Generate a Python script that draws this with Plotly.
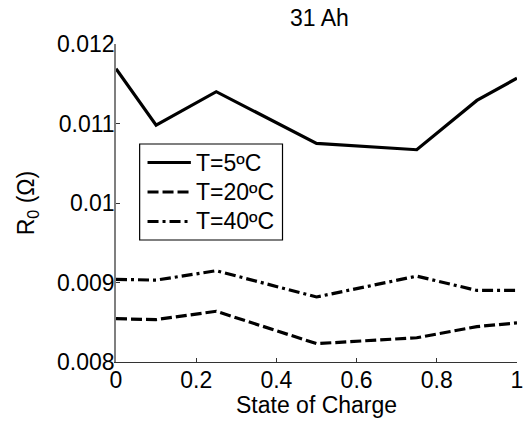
import plotly.graph_objects as go

# State of charge sample points
soc = [0, 0.1, 0.25, 0.5, 0.75, 0.9, 1.0]

# Ohmic resistance R0 (Ohm) at each temperature
r0_5c = [0.01169, 0.01098, 0.01140, 0.01075, 0.01067, 0.01129, 0.01157]
r0_20c = [0.008545, 0.008533, 0.008638, 0.008231, 0.008305, 0.008445, 0.008492]
r0_40c = [0.009040, 0.009030, 0.009148, 0.008818, 0.009080, 0.008900, 0.008900]

series_names = ["T=5ºC", "T=20ºC", "T=40ºC"]
y_ticks = [0.008, 0.009, 0.010, 0.011, 0.012]
y_tick_text = ["0.008", "0.009", "0.01", "0.011", "0.012"]
x_ticks = [0, 0.2, 0.4, 0.6, 0.8, 1]
x_tick_text = ["0", "0.2", "0.4", "0.6", "0.8", "1"]

FONT = "Liberation Sans, Arial, Helvetica, sans-serif"
FS = 23
dashes = ["solid", "11px,4px", "11px,4px,3px,4px"]

W, H = 530, 423
ML, MR, MT, MB = 116, 7, 44, 61
PW, PH = W - ML - MR, H - MT - MB


def px_x(px):
    return (px - ML) / PW


def px_y(py):
    return (H - MB - py) / PH


fig = go.Figure()
for name, vals, dash in zip(series_names, [r0_5c, r0_20c, r0_40c], dashes):
    fig.add_trace(go.Scatter(
        x=soc, y=vals, mode="lines", name=name, showlegend=False,
        line=dict(color="black", width=3.2, dash=dash),
    ))

# Boxed key in the upper-left part of the axes
shapes = [dict(type="rect", xref="paper", yref="paper",
               x0=px_x(140), x1=px_x(285), y0=px_y(240), y1=px_y(144),
               line=dict(color="black", width=1.2), fillcolor="white",
               layer="above")]
annotations = []
for i, (name, dash) in enumerate(zip(series_names, dashes)):
    ry = px_y(162.5 + 29.5 * i)
    shapes.append(dict(type="line", xref="paper", yref="paper",
                       x0=px_x(148), x1=px_x(192), y0=ry, y1=ry,
                       line=dict(color="black", width=3.2, dash=dash),
                       layer="above"))
    annotations.append(dict(text=name, xref="paper", yref="paper",
                            x=px_x(195), y=ry, xanchor="left",
                            yanchor="middle", showarrow=False,
                            font=dict(family=FONT, size=FS, color="black")))

# x-axis title placed just under the tick labels
annotations.append(dict(text="State of Charge", xref="paper", yref="paper",
                        x=0.5, y=px_y(405), xanchor="center",
                        yanchor="middle", showarrow=False,
                        font=dict(family=FONT, size=FS, color="black")))

fig.update_layout(
    width=W, height=H,
    margin=dict(l=ML, r=MR, t=MT, b=MB),
    paper_bgcolor="white", plot_bgcolor="white",
    font=dict(family=FONT, size=FS, color="black"),
    title=dict(text="31 Ah", x=(ML + PW / 2) / W, xanchor="center",
               y=1 - 18 / H, yanchor="middle", yref="container",
               font=dict(family=FONT, size=FS, color="black")),
    showlegend=False,
    shapes=shapes,
    annotations=annotations,
)

fig.update_xaxes(
    range=[0, 1], tickvals=x_ticks, ticktext=x_tick_text,
    showgrid=False, zeroline=False,
    showline=True, linecolor="#333333", linewidth=1.2,
    ticks="inside", ticklen=4, tickcolor="#333333",
    ticklabelstandoff=-3,
    tickfont=dict(family=FONT, size=FS),
)
fig.update_yaxes(
    range=[0.008, 0.012], tickvals=y_ticks, ticktext=y_tick_text,
    showgrid=False, zeroline=False,
    showline=True, linecolor="#7f7f7f", linewidth=1.5,
    ticks="inside", ticklen=4, tickcolor="#333333",
    ticklabelstandoff=-5,
    title=dict(text="R<sub>0</sub> (Ω)", standoff=16,
               font=dict(family=FONT, size=FS)),
    tickfont=dict(family=FONT, size=FS),
)

fig.write_html("out.html")
